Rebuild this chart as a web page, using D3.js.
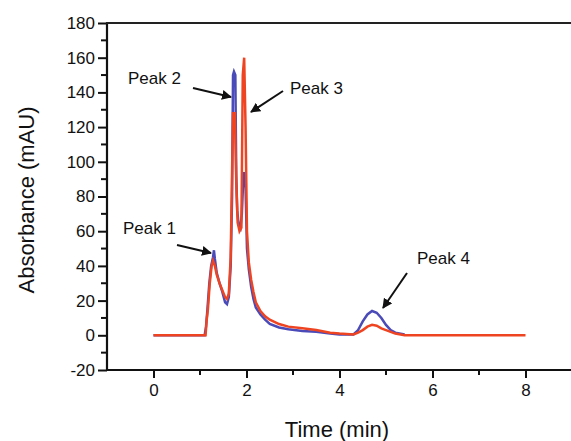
<!DOCTYPE html>
<html><head><meta charset="utf-8">
<script src="https://cdn.jsdelivr.net/npm/d3@7"></script>
<style>body{margin:0;background:#fff}svg{display:block}text{font-family:Arial,"Liberation Sans",Helvetica,sans-serif;fill:#111}</style>
</head><body><svg id="c" width="571" height="441"></svg>
<script>
const blueTime = [0,1.10,1.13,1.16,1.20,1.24,1.28,1.30,1.32,1.36,1.42,1.48,1.54,1.58,1.62,1.66,1.69,1.71,1.73,1.76,1.78,1.80,1.83,1.87,1.90,1.93,1.95,1.98,2.01,2.05,2.10,2.15,2.20,2.30,2.40,2.50,2.70,2.90,3.20,3.50,3.80,4.00,4.30,4.40,4.50,4.60,4.70,4.80,4.90,5.00,5.10,5.20,5.40];
const blueValues = [0,0,5,15,30,40,45,49,44,36,30,25,19,18,22,40,80,150,152,150,92,72,64,62,70,90,94,85,50,38,28,21,16,12,9,6.5,4.5,3.5,2.5,2,1,0.5,0.5,3,8,12,14,13,10,6,3,1.5,0.5];
const redTime = [0,1.12,1.14,1.17,1.21,1.25,1.28,1.32,1.36,1.42,1.48,1.54,1.58,1.62,1.66,1.69,1.71,1.75,1.78,1.81,1.85,1.89,1.92,1.95,1.98,2.01,2.05,2.10,2.15,2.20,2.30,2.40,2.50,2.70,2.90,3.20,3.50,3.80,4.00,4.30,4.40,4.50,4.60,4.70,4.80,4.90,5.00,5.20,5.40,8.00];
const redValues = [0,0,8,15,30,40,43,40,35,30,26,22,21,24,45,95,128,128,88,65,60,62,150,160,120,60,42,32,25,19,14,11,9,6.5,5,4,3,1.5,1,0.5,1.5,3,5,6,5.5,4,3,1,0,0];
const xTicks = [0,2,4,6,8];
const yTicks = [-20,0,20,40,60,80,100,120,140,160,180];
const peakLabels = ["Peak 1","Peak 2","Peak 3","Peak 4"];

const svg = d3.select("#c");
const x = d3.scaleLinear().domain([-1,9]).range([107,572]);
const y = d3.scaleLinear().domain([-20,180]).range([370,23]);

const yMinor = d3.range(-20,181,10).filter(v=>v%20!==0);
const xMinor = d3.range(1,10,2);
svg.append("g").selectAll("line").data(yMinor).join("line")
  .attr("x1",101).attr("x2",107).attr("y1",d=>y(d)).attr("y2",d=>y(d))
  .attr("stroke","#111").attr("stroke-width",2);
svg.append("g").selectAll("line").data(xMinor).join("line")
  .attr("y1",370).attr("y2",375).attr("x1",d=>x(d)).attr("x2",d=>x(d))
  .attr("stroke","#111").attr("stroke-width",2);

const yAxis = svg.append("g").attr("transform","translate(107,0)")
  .call(d3.axisLeft(y).tickValues(yTicks).tickSize(9).tickPadding(3).tickFormat(d=>String(d)));
const xAxis = svg.append("g").attr("transform","translate(0,370)")
  .call(d3.axisBottom(x).tickValues(xTicks).tickSize(8).tickPadding(6).tickFormat(d=>String(d)));
[yAxis,xAxis].forEach(g=>{
  g.select(".domain").attr("stroke","#111").attr("stroke-width",2.2);
  g.selectAll(".tick line").attr("stroke","#111").attr("stroke-width",2);
  g.selectAll(".tick text").attr("font-size",17).style("fill","#111");
});
yAxis.select(".domain").attr("d","M0,370V22");
xAxis.select(".domain").attr("d","M107,0H571");
svg.append("line").attr("x1",106).attr("x2",571).attr("y1",y(180)).attr("y2",y(180))
  .attr("stroke","#222").attr("stroke-width",2.2);

const line = d3.line().x(d=>x(d[0])).y(d=>y(d[1]));
svg.append("path").datum(blueTime.map((t,i)=>[t,blueValues[i]]))
  .attr("d",line).attr("fill","none").attr("stroke","#4a4ab8").attr("stroke-width",2.5);
svg.append("path").datum(redTime.map((t,i)=>[t,redValues[i]]))
  .attr("d",line).attr("fill","none").attr("stroke","#ee4422").attr("stroke-width",2.5);

svg.append("text").attr("x",337).attr("y",437).attr("text-anchor","middle").attr("font-size",22).text("Time (min)");
svg.append("text").attr("transform","translate(34,200) rotate(-90)").attr("text-anchor","middle").attr("font-size",22).text("Absorbance (mAU)");

const defs = svg.append("defs");
defs.append("marker").attr("id","ah").attr("viewBox","0 0 10 10").attr("refX",9).attr("refY",5)
  .attr("markerWidth",5).attr("markerHeight",5).attr("orient","auto")
  .append("path").attr("d","M0,0L10,5L0,10z").attr("fill","#111");
const ann = [
  {t:peakLabels[0], tx:123, ty:234, a:[177,245,211,253]},
  {t:peakLabels[1], tx:128, ty:84, a:[193,88,231,97]},
  {t:peakLabels[2], tx:290, ty:94, a:[283,91,251,112]},
  {t:peakLabels[3], tx:417, ty:264, a:[407,273,383,308]}
];
ann.forEach(d=>{
  svg.append("text").attr("x",d.tx).attr("y",d.ty).attr("font-size",17).text(d.t);
  svg.append("line").attr("x1",d.a[0]).attr("y1",d.a[1]).attr("x2",d.a[2]).attr("y2",d.a[3])
    .attr("stroke","#111").attr("stroke-width",2).attr("marker-end","url(#ah)");
});
</script></body></html>
